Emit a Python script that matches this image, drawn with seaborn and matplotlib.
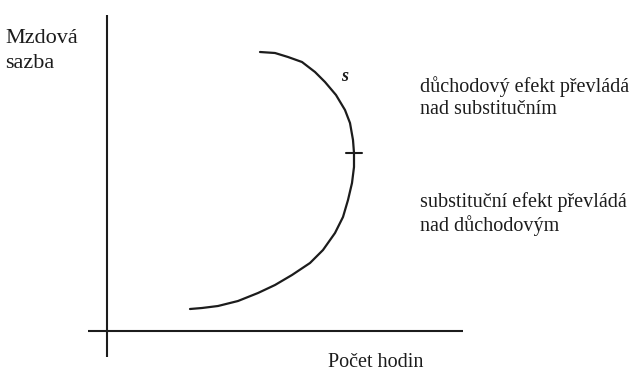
import numpy as np
import matplotlib
matplotlib.use("Agg")
import matplotlib.pyplot as plt
import seaborn as sns

# krivka nabidky prace (zpetne zakrivena), odectene body
hodiny = [83, 95, 111, 131, 151, 168, 185, 203, 216, 228, 236, 241, 245, 247, 247,
          246, 243, 238, 229, 218, 208, 195, 181, 168, 153]
mzda = [22, 23, 25, 30, 38, 46, 56, 68, 81, 98, 114, 131, 148, 164, 178,
        191, 208, 221, 236, 249, 259, 269, 274, 278, 279]

# bod zlomu (znacka na krivce)
zlom_x = 247
zlom_y = 178

popis_y = "Mzdová\nsazba"
popis_x = "Počet hodin"
popis_krivky = "s"
text_horni = "důchodový efekt převládá\nnad substitučním"
text_dolni = "substituční efekt převládá\nnad důchodovým"

sns.set_theme(style="white")
plt.rcParams["font.family"] = ["Liberation Serif", "DejaVu Serif"]

fig = plt.figure(figsize=(6.35, 3.73), dpi=100)
ax = fig.add_axes([0, 0, 1, 1])
ax.set_xlim(-107, 528)
ax.set_ylim(-42, 331)
ax.axis("off")

ink = "#1c1c1c"

# osy
ax.plot([0, 0], [-26, 316], color=ink, lw=1.5, solid_capstyle="butt")
ax.plot([-19, 356], [0, 0], color=ink, lw=1.5, solid_capstyle="butt")

# krivka
sns.lineplot(x=hodiny, y=mzda, sort=False, estimator=None, color=ink, lw=1.6, ax=ax)
ax.plot([zlom_x - 8, zlom_x + 8], [zlom_y, zlom_y], color=ink, lw=1.5)

ax.text(-102, 302, popis_y, fontsize=16, va="top", ha="left", linespacing=1.42, color=ink)
ax.text(238, 250, popis_krivky, fontsize=13, style="italic", fontweight="bold",
        va="baseline", ha="center", color=ink)
ax.text(313, 255, text_horni, fontsize=14.5, va="top", ha="left", linespacing=1.2, color=ink)
ax.text(313, 139, text_dolni, fontsize=14.5, va="top", ha="left", linespacing=1.2, color=ink)
ax.text(221, -41, popis_x, fontsize=14.5, va="bottom", ha="left", color=ink)

fig.savefig("out.png", dpi=100)
